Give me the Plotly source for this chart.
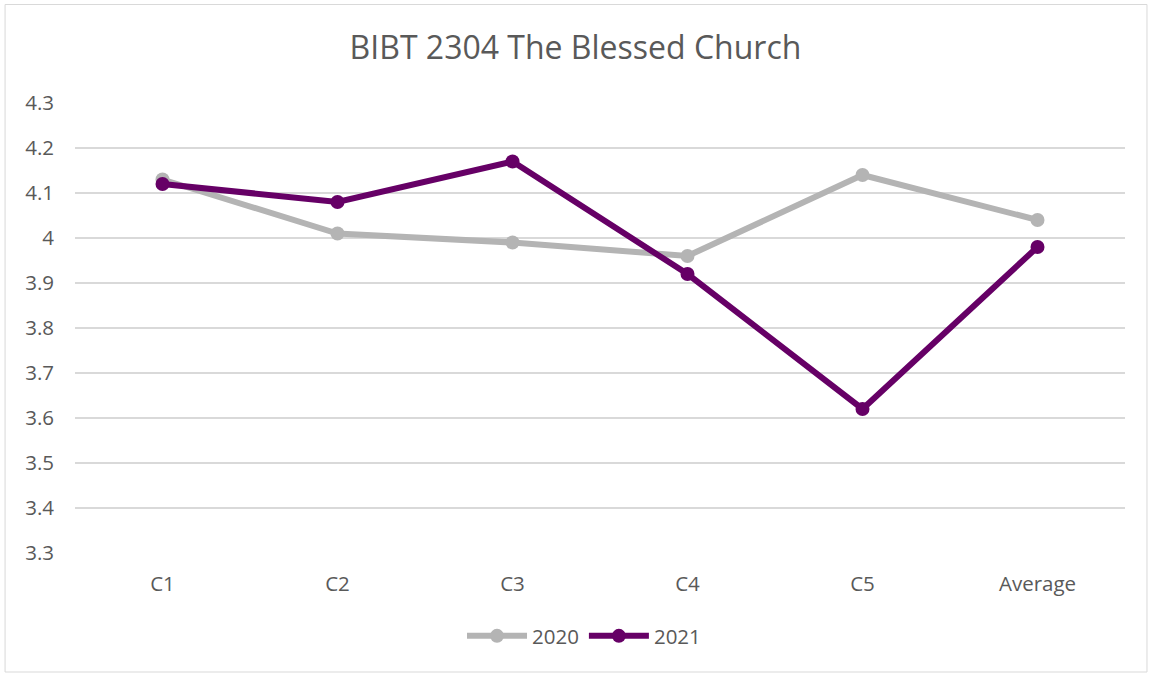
import plotly.graph_objects as go

categories = ["C1", "C2", "C3", "C4", "C5", "Average"]
values_2020 = [4.13, 4.01, 3.99, 3.96, 4.14, 4.04]
values_2021 = [4.12, 4.08, 4.17, 3.92, 3.62, 3.98]
y_ticks = [3.3, 3.4, 3.5, 3.6, 3.7, 3.8, 3.9, 4.0, 4.1, 4.2, 4.3]
y_ticklabels = ["3.3", "3.4", "3.5", "3.6", "3.7", "3.8", "3.9", "4", "4.1", "4.2", "4.3"]

W, H = 1151, 673
L, R, T, B = 74.5, 25.5, 103, 120
FONT = "'Open Sans', sans-serif"
TXT = "#595959"

fig = go.Figure()
fig.add_trace(go.Scatter(x=categories, y=values_2020, name="2020", mode="lines+markers",
                         line=dict(color="#B4B4B4", width=6),
                         marker=dict(color="#B4B4B4", size=14)))
fig.add_trace(go.Scatter(x=categories, y=values_2021, name="2021", mode="lines+markers",
                         line=dict(color="#660066", width=6),
                         marker=dict(color="#660066", size=14)))

pw, ph = W - L - R, H - T - B
def px(x): return (x - L) / pw
def py(y): return (H - B - y) / ph

fig.add_shape(type="rect", xref="paper", yref="paper",
              x0=px(4.5), x1=px(1147.5), y0=py(672), y1=py(4.5),
              line=dict(color="#D9D9D9", width=1), fillcolor="rgba(0,0,0,0)", layer="below")

fig.update_layout(
    width=W, height=H,
    margin=dict(l=L, r=R, t=T, b=B),
    paper_bgcolor="white", plot_bgcolor="white",
    title=dict(text="BIBT 2304 The Blessed Church", x=0.5, xanchor="center",
               y=1 - 48 / H, yanchor="middle",
               font=dict(family=FONT, size=32, color=TXT)),
    font=dict(family=FONT, size=20, color=TXT),
    xaxis=dict(type="category", range=[-0.5, 5.5], showgrid=False, showline=False,
               zeroline=False, ticks="", ticklabelstandoff=16,
               tickfont=dict(size=20.5, color=TXT)),
    yaxis=dict(range=[3.3, 4.3], tickvals=y_ticks, ticktext=y_ticklabels,
               showgrid=True, gridcolor="#D9D9D9", gridwidth=1.5, zeroline=False,
               showline=False, ticks="", ticklabelstandoff=20,
               tickfont=dict(size=20.5, color=TXT)),
    legend=dict(orientation="h", x=px(584), xanchor="center", y=py(636), yanchor="middle",
                font=dict(size=20.5, color=TXT), itemwidth=60),
    showlegend=True,
)

fig.write_html("out.html", config={"displayModeBar": False},
               post_script="document.body.style.margin='0';")
